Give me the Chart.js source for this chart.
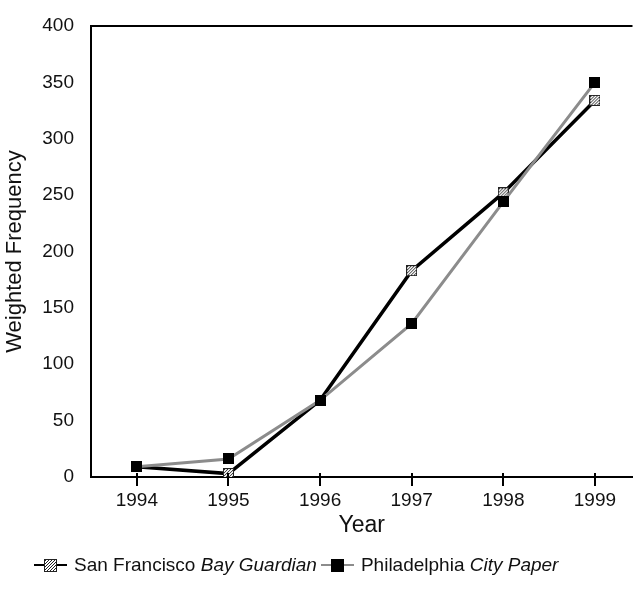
<!DOCTYPE html>
<html>
<head>
<meta charset="utf-8">
<script src="https://cdn.jsdelivr.net/npm/chart.js@4.4.0/dist/chart.umd.min.js"></script>
<style>
  html, body { margin: 0; padding: 0; background: #fff; }
  #wrap { position: relative; width: 640px; height: 589px; }
  #legend {
    position: absolute; left: 34px; top: 554px;
    font-family: "Liberation Sans", Arial, sans-serif; font-size: 19px; color: #111;
    display: flex; align-items: center; white-space: nowrap;
  }
  .item { display: flex; align-items: center; margin-right: 4px; }
  .seg { display: inline-block; width: 10px; height: 2px; }
  .item canvas { display: block; }
  .lbl { margin-left: 7px; }
</style>
</head>
<body>
<div id="wrap">
  <canvas id="chart" width="640" height="589"></canvas>
  <div id="legend"></div>
</div>
<script>
const years = [1994, 1995, 1996, 1997, 1998, 1999];
const sfValues = [9, 3, 68, 183, 252, 334];
const phValues = [9, 16, 68, 136, 244, 350];
const yTicks = [0, 50, 100, 150, 200, 250, 300, 350, 400];

const FONT = "'Liberation Sans', Arial, sans-serif";

// marker images
function makeSquare(hatched, size) {
  const c = document.createElement("canvas");
  c.width = size; c.height = size;
  const g = c.getContext("2d");
  if (!hatched) {
    g.fillStyle = "#000";
    g.fillRect(0, 0, size, size);
    return c;
  }
  g.fillStyle = "#fff";
  g.fillRect(0, 0, size, size);
  g.strokeStyle = "#222";
  g.lineWidth = 1;
  for (let k = -size; k < 2 * size; k += 3) {
    g.beginPath();
    g.moveTo(k, size);
    g.lineTo(k + size, 0);
    g.stroke();
  }
  g.strokeRect(0.5, 0.5, size - 1, size - 1);
  return c;
}
const hatchMark = makeSquare(true, 11);
const blackMark = makeSquare(false, 11);

const SF_COLOR = "#000";
const PH_COLOR = "#8c8c8c";

// top border + crossing x ticks
const frame = {
  id: "frame",
  afterDraw(chart) {
    const { ctx, chartArea } = chart;
    const xs = chart.scales.x;
    ctx.save();
    ctx.strokeStyle = "#000";
    ctx.lineWidth = 2;
    ctx.beginPath();
    ctx.moveTo(chartArea.left - 1, chartArea.top);
    ctx.lineTo(chartArea.right, chartArea.top);
    ctx.stroke();
    years.forEach((yr) => {
      const px = Math.round(xs.getPixelForValue(yr));
      ctx.beginPath();
      ctx.moveTo(px, chartArea.bottom - 4);
      ctx.lineTo(px, chartArea.bottom + 9);
      ctx.stroke();
    });
    ctx.restore();
  },
};

new Chart(document.getElementById("chart"), {
  type: "line",
  data: {
    datasets: [
      {
        label: "San Francisco Bay Guardian",
        data: years.map((yr, i) => ({ x: yr, y: sfValues[i] })),
        borderColor: SF_COLOR,
        borderWidth: 3.5,
        pointStyle: hatchMark,
        tension: 0,
        order: 2,
      },
      {
        label: "Philadelphia City Paper",
        data: years.map((yr, i) => ({ x: yr, y: phValues[i] })),
        borderColor: PH_COLOR,
        borderWidth: 3,
        pointStyle: blackMark,
        tension: 0,
        order: 1,
      },
    ],
  },
  options: {
    responsive: false,
    animation: false,
    layout: { padding: { top: 26, right: 7, bottom: 50, left: 0 } },
    plugins: { legend: { display: false }, tooltip: { enabled: false } },
    scales: {
      x: {
        type: "linear",
        min: 1993.5,
        max: 1999.41,
        afterBuildTicks: (s) => { s.ticks = years.map((v) => ({ value: v })); },
        afterFit: (s) => { s.height = 62; },
        grid: { display: false },
        border: { display: true, color: "#000", width: 2 },
        ticks: {
          color: "#111",
          padding: 4,
          maxRotation: 0,
          font: { family: FONT, size: 19 },
          callback: (v) => String(v),
        },
        title: {
          display: true,
          text: "Year",
          color: "#111",
          font: { family: FONT, size: 23 },
          padding: { top: 2, bottom: 0 },
        },
      },
      y: {
        min: 0,
        max: 400,
        afterBuildTicks: (s) => { s.ticks = yTicks.map((v) => ({ value: v })); },
        afterFit: (s) => { s.width = 91; },
        grid: { display: false },
        border: { display: true, color: "#000", width: 2 },
        ticks: {
          color: "#111",
          padding: 9,
          font: { family: FONT, size: 19 },
        },
        title: {
          display: true,
          text: "Weighted Frequency",
          color: "#111",
          font: { family: FONT, size: 22 },
          padding: { top: 2, bottom: 0 },
        },
      },
    },
  },
  plugins: [frame],
});

// legend with italic paper names
const legendEl = document.getElementById("legend");
[
  { city: "San Francisco ", paper: "Bay Guardian", color: SF_COLOR, mark: true },
  { city: "Philadelphia ", paper: "City Paper", color: PH_COLOR, mark: false },
].forEach((it) => {
  const item = document.createElement("span");
  item.className = "item";
  const seg1 = document.createElement("span");
  seg1.className = "seg"; seg1.style.background = it.color;
  const seg2 = seg1.cloneNode();
  const m = makeSquare(it.mark, 13);
  const lbl = document.createElement("span");
  lbl.className = "lbl";
  lbl.append(it.city);
  const em = document.createElement("i");
  em.textContent = it.paper;
  lbl.append(em);
  item.append(seg1, m, seg2, lbl);
  legendEl.append(item);
});
</script>
</body>
</html>
